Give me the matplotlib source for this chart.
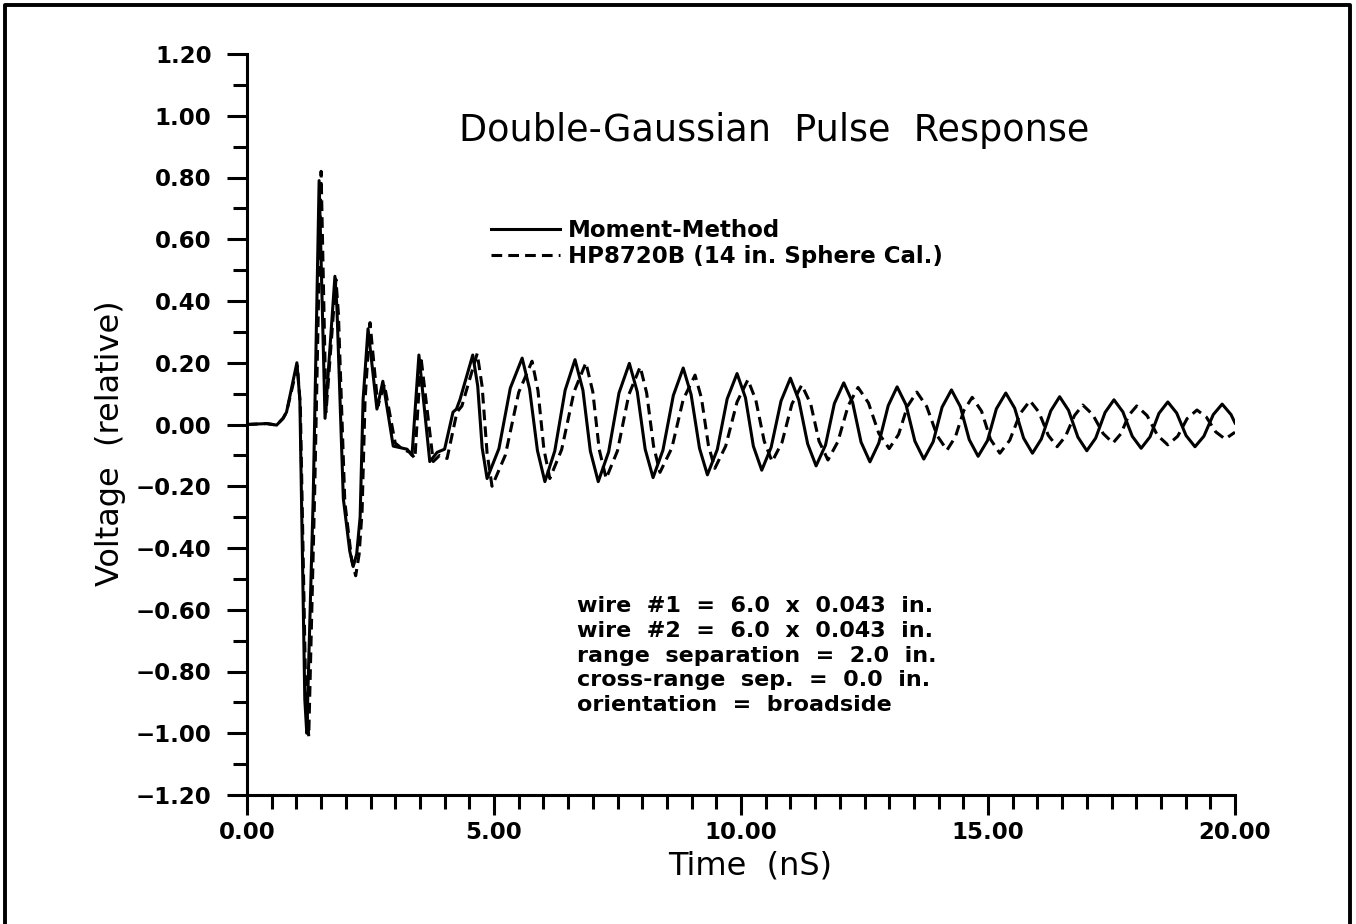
import numpy as np
import matplotlib.pyplot as plt
from matplotlib.lines import Line2D
from matplotlib.ticker import MultipleLocator, FuncFormatter

# Moment-Method response (solid), time in nS
mm_time = [0.00, 0.40, 0.60, 0.73, 0.80, 1.01, 1.07, 1.17, 1.21, 1.34, 1.46, 1.58, 1.78, 1.82,
           1.95, 2.08, 2.15, 2.22, 2.29, 2.35, 2.45, 2.63, 2.75, 2.96, 3.10, 3.24, 3.34, 3.48,
           3.70, 3.85, 4.00, 4.17, 4.24, 4.31,
           4.57, 4.67, 4.76, 4.86, 5.10, 5.33, 5.57, 5.72, 5.88, 6.03, 6.23, 6.44,
           6.64, 6.80, 6.95, 7.11, 7.32, 7.53, 7.74, 7.90, 8.06, 8.22, 8.42, 8.63,
           8.83, 8.99, 9.16, 9.32, 9.52, 9.72, 9.92, 10.09, 10.25, 10.42, 10.61, 10.81,
           11.00, 11.17, 11.35, 11.52, 11.71, 11.89, 12.08, 12.26, 12.43, 12.61, 12.79, 12.98,
           13.16, 13.34, 13.52, 13.70, 13.89, 14.07, 14.26, 14.44, 14.62, 14.80, 14.99, 15.17,
           15.36, 15.54, 15.72, 15.90, 16.08, 16.27, 16.45, 16.63, 16.82, 17.00, 17.18, 17.37,
           17.55, 17.73, 17.92, 18.10, 18.28, 18.46, 18.64, 18.82, 19.01, 19.19, 19.37, 19.56,
           19.74, 19.92, 20.00]
mm_volt = [0.000, 0.003, -0.002, 0.020, 0.040, 0.200, 0.080, -0.890, -1.000, -0.240, 0.790, 0.020, 0.480, 0.380,
           -0.240, -0.410, -0.460, -0.420, -0.300, 0.080, 0.310, 0.050, 0.140, -0.070, -0.075, -0.080, -0.100, 0.225,
           -0.120, -0.090, -0.080, 0.040, 0.050, 0.080,
           0.225, 0.125, -0.075, -0.175, -0.078, 0.118, 0.215, 0.115, -0.085, -0.185, -0.086, 0.111,
           0.210, 0.111, -0.086, -0.185, -0.089, 0.102, 0.198, 0.106, -0.080, -0.172, -0.083, 0.094,
           0.183, 0.097, -0.077, -0.163, -0.081, 0.083, 0.165, 0.087, -0.070, -0.148, -0.074, 0.076,
           0.150, 0.079, -0.063, -0.134, -0.067, 0.068, 0.135, 0.071, -0.057, -0.121, -0.060, 0.061,
           0.122, 0.064, -0.054, -0.112, -0.056, 0.056, 0.112, 0.058, -0.049, -0.103, -0.052, 0.051,
           0.102, 0.053, -0.044, -0.093, -0.047, 0.044, 0.090, 0.046, -0.041, -0.085, -0.044, 0.039,
           0.080, 0.041, -0.038, -0.077, -0.040, 0.036, 0.073, 0.037, -0.036, -0.072, -0.038, 0.032,
           0.066, 0.032, 0.005]

# HP8720B measurement (dashed)
hp_time = [0.00, 0.40, 0.60, 0.73, 0.80, 1.02, 1.08, 1.19, 1.25, 1.37, 1.50, 1.60, 1.80, 1.85,
           1.98, 2.12, 2.20, 2.27, 2.33, 2.39, 2.49, 2.65, 2.78, 3.00, 3.15, 3.30, 3.40, 3.52,
           3.77, 3.90, 4.05, 4.25, 4.35,
           4.66, 4.76, 4.86, 4.96, 5.23, 5.50, 5.77, 5.89, 6.01, 6.13, 6.37, 6.62,
           6.86, 7.00, 7.13, 7.27, 7.50, 7.73, 7.96, 8.09, 8.23, 8.36, 8.60, 8.83,
           9.07, 9.20, 9.34, 9.47, 9.69, 9.92, 10.14, 10.30, 10.47, 10.63, 10.83, 11.03,
           11.23, 11.41, 11.58, 11.76, 11.96, 12.17, 12.37, 12.58, 12.79, 13.00, 13.19, 13.37,
           13.56, 13.76, 13.97, 14.17, 14.34, 14.51, 14.68, 14.87, 15.05, 15.24, 15.44, 15.65,
           15.85, 16.03, 16.22, 16.40, 16.57, 16.75, 16.92, 17.12, 17.33, 17.53, 17.69, 17.85,
           18.01, 18.22, 18.43, 18.64, 18.84, 19.03, 19.23, 19.42, 19.61, 19.80, 20.00]
hp_volt = [0.000, 0.003, -0.002, 0.020, 0.040, 0.190, 0.060, -0.880, -1.010, -0.220, 0.820, 0.040, 0.470, 0.360,
           -0.250, -0.440, -0.490, -0.420, -0.280, 0.080, 0.330, 0.060, 0.130, -0.060, -0.080, -0.090, -0.110, 0.220,
           -0.120, -0.100, -0.110, 0.040, 0.060,
           0.230, 0.123, -0.093, -0.200, -0.099, 0.104, 0.205, 0.110, -0.080, -0.175, -0.081, 0.106,
           0.200, 0.106, -0.081, -0.175, -0.085, 0.097, 0.187, 0.102, -0.070, -0.155, -0.076, 0.081,
           0.160, 0.085, -0.067, -0.142, -0.070, 0.073, 0.145, 0.079, -0.054, -0.120, -0.058, 0.066,
           0.128, 0.067, -0.054, -0.115, -0.056, 0.061, 0.120, 0.070, -0.029, -0.078, -0.032, 0.059,
           0.105, 0.058, -0.036, -0.083, -0.040, 0.045, 0.088, 0.043, -0.048, -0.093, -0.051, 0.035,
           0.077, 0.040, -0.035, -0.072, -0.038, 0.029, 0.063, 0.032, -0.029, -0.060, -0.030, 0.030,
           0.060, 0.029, -0.035, -0.066, -0.038, 0.019, 0.047, 0.024, -0.024, -0.047, -0.025]

series_labels = ['Moment-Method', 'HP8720B (14 in. Sphere Cal.)']
notes = ['wire  #1  =  6.0  x  0.043  in.',
         'wire  #2  =  6.0  x  0.043  in.',
         'range  separation  =  2.0  in.',
         'cross-range  sep.  =  0.0  in.',
         'orientation  =  broadside']

W, H = 1356, 924
fig = plt.figure(figsize=(W / 100, H / 100), dpi=100)
ax = fig.add_axes([247 / W, 1 - 795 / H, (1235 - 247) / W, (795 - 54) / H])

lw = 2.2
ax.plot(mm_time, mm_volt, color='black', lw=lw, solid_joinstyle='round', label=series_labels[0])
ax.plot(hp_time, hp_volt, color='black', lw=lw, linestyle=(0, (3.5, 2.0)), label=series_labels[1])

ax.set_xlim(0, 20)
ax.set_ylim(-1.2, 1.2)
for s in ['top', 'right']:
    ax.spines[s].set_visible(False)
for s in ['left', 'bottom']:
    ax.spines[s].set_linewidth(2.2)

fmt = FuncFormatter(lambda v, pos: f'{v:.2f}'.replace('-', '\u2212'))
ax.xaxis.set_major_locator(MultipleLocator(5))
ax.xaxis.set_minor_locator(MultipleLocator(0.5))
ax.yaxis.set_major_locator(MultipleLocator(0.2))
ax.yaxis.set_minor_locator(MultipleLocator(0.1))
ax.xaxis.set_major_formatter(fmt)
ax.yaxis.set_major_formatter(fmt)
ax.tick_params(which='major', direction='out', length=14.5, width=2.2, labelsize=16.5)
ax.tick_params(which='minor', direction='out', length=10, width=2.2)
ax.tick_params(axis='y', which='major', pad=11)
ax.tick_params(axis='x', which='major', pad=4)
for lab in ax.get_xticklabels() + ax.get_yticklabels():
    lab.set_fontweight('bold')

fig.text(750 / W, 1 - 866 / H, 'Time  (nS)', fontsize=23, ha='center', va='center')
fig.text(110 / W, 1 - 443 / H, 'Voltage  (relative)', fontsize=23, rotation=90,
         ha='center', va='center')
fig.text(774 / W, 1 - 130 / H, 'Double-Gaussian  Pulse  Response', fontsize=26.3,
         ha='center', va='center')

ax.legend(loc='upper left', bbox_to_anchor=(491 / W, 1 - 219 / H), bbox_transform=fig.transFigure,
          frameon=False, borderpad=0, borderaxespad=0, handlelength=3.0, handletextpad=0.35,
          labelspacing=0.12, prop={'size': 16.5, 'weight': 'bold'})

fig.text(577 / W, 1 - 596 / H, '\n'.join(notes), fontsize=16, fontweight='bold',
         ha='left', va='top', linespacing=1.3)

# frame around the whole page
fig.add_artist(Line2D([5 / W, 5 / W, 1350 / W, 1350 / W], [0, 1 - 5 / H, 1 - 5 / H, 0],
                      transform=fig.transFigure, color='black', lw=2.8))

fig.savefig('out.png', dpi=100)
